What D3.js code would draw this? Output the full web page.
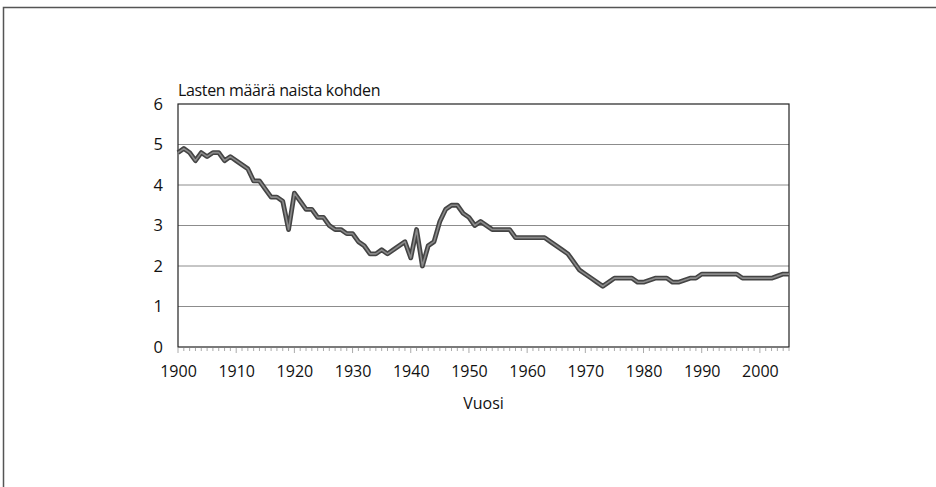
<!DOCTYPE html>
<html>
<head>
<meta charset="utf-8">
<script src="https://cdn.jsdelivr.net/npm/d3@7"></script>
<style>
  body { margin: 0; background: #fff; }
  text { font-family: "Open Sans", sans-serif; fill: #111; }
  .grid line { stroke: #8c8c8c; stroke-width: 1; }
</style>
</head>
<body>
<div id="chart"></div>
<script>
// Lasten määrä naista kohden, 1900-2005
var years = d3.range(1900, 2006);
var rates = [
  4.8, 4.9, 4.8, 4.6, 4.8, 4.7, 4.8, 4.8, 4.6, 4.7,   // 1900-1909
  4.6, 4.5, 4.4, 4.1, 4.1, 3.9, 3.7, 3.7, 3.6, 2.9,   // 1910-1919
  3.8, 3.6, 3.4, 3.4, 3.2, 3.2, 3.0, 2.9, 2.9, 2.8,   // 1920-1929
  2.8, 2.6, 2.5, 2.3, 2.3, 2.4, 2.3, 2.4, 2.5, 2.6,   // 1930-1939
  2.2, 2.9, 2.0, 2.5, 2.6, 3.1, 3.4, 3.5, 3.5, 3.3,   // 1940-1949
  3.2, 3.0, 3.1, 3.0, 2.9, 2.9, 2.9, 2.9, 2.7, 2.7,   // 1950-1959
  2.7, 2.7, 2.7, 2.7, 2.6, 2.5, 2.4, 2.3, 2.1, 1.9,   // 1960-1969
  1.8, 1.7, 1.6, 1.5, 1.6, 1.7, 1.7, 1.7, 1.7, 1.6,   // 1970-1979
  1.6, 1.65, 1.7, 1.7, 1.7, 1.6, 1.6, 1.65, 1.7, 1.7, // 1980-1989
  1.8, 1.8, 1.8, 1.8, 1.8, 1.8, 1.8, 1.7, 1.7, 1.7,   // 1990-1999
  1.7, 1.7, 1.7, 1.75, 1.8, 1.8                       // 2000-2005
];
var yTicks = [0, 1, 2, 3, 4, 5, 6];
var xTicks = d3.range(1900, 2001, 10);

var W = 936, H = 487;
var margin = {top: 104, right: 147, bottom: 140, left: 178},
    w = W - margin.left - margin.right,
    h = H - margin.top - margin.bottom;

var data = years.map(function(y, i) { return {year: y, rate: rates[i]}; });

var x = d3.scaleLinear().domain([1900, 2005]).range([0, w]),
    y = d3.scaleLinear().domain([0, 6]).range([h, 0]);

var svg = d3.select("#chart").append("svg")
    .attr("width", W)
    .attr("height", H);

// outer frame (top and left edges)
svg.append("path")
   .attr("d", "M3.5," + H + "V7.5H" + W)
   .attr("fill", "none")
   .attr("stroke", "#555")
   .attr("stroke-width", 1.5);

var g = svg.append("g")
    .attr("transform", "translate(" + margin.left + "," + margin.top + ")");

// horizontal gridlines
g.append("g")
   .attr("class", "grid")
   .selectAll("line")
   .data(yTicks.slice(1, -1))
   .enter().append("line")
   .attr("x1", 0).attr("x2", w)
   .attr("y1", function(d) { return y(d); })
   .attr("y2", function(d) { return y(d); });

// plot border
g.append("rect")
   .attr("width", w).attr("height", h)
   .attr("fill", "none")
   .attr("stroke", "#222")
   .attr("stroke-width", 1.2);

// y axis labels
g.append("g")
   .attr("class", "y axis")
   .call(d3.axisLeft(y).tickValues(yTicks).tickFormat(d3.format("d")).tickSize(0).tickPadding(15))
   .call(function(s) { s.select(".domain").remove(); })
   .selectAll("text")
   .style("font-size", "16.5px")
   .attr("fill", "#111");

// x axis: minor ticks every year, labels every decade
var xAxis = g.append("g")
   .attr("class", "x axis")
   .attr("transform", "translate(0," + h + ")");

xAxis.selectAll("line.minor")
   .data(years)
   .enter().append("line")
   .attr("class", "minor")
   .attr("x1", function(d) { return x(d); })
   .attr("x2", function(d) { return x(d); })
   .attr("y1", 1)
   .attr("y2", function(d) { return d % 10 === 0 ? 6 : 4; })
   .attr("stroke", "#aaa")
   .attr("stroke-width", 1);

xAxis.call(d3.axisBottom(x).tickValues(xTicks).tickFormat(d3.format("d")).tickSize(0).tickPadding(19))
   .call(function(s) { s.select(".domain").remove(); })
   .selectAll("text")
   .style("font-size", "16px")
   .attr("fill", "#111");

// the series: dark outline with lighter core
var line = d3.line()
    .x(function(d) { return x(d.year); })
    .y(function(d) { return y(d.rate); });

g.append("path")
   .datum(data)
   .attr("d", line)
   .attr("fill", "none")
   .attr("stroke", "#444")
   .attr("stroke-width", 4.8)
   .attr("stroke-linejoin", "round");

g.append("path")
   .datum(data)
   .attr("d", line)
   .attr("fill", "none")
   .attr("stroke", "#8a8a8a")
   .attr("stroke-width", 1.6)
   .attr("stroke-linejoin", "round");

// titles
g.append("text")
   .attr("x", 0)
   .attr("y", -8)
   .style("font-size", "16px")
   .style("letter-spacing", "-0.35px")
   .text("Lasten määrä naista kohden");

g.append("text")
   .attr("x", w / 2)
   .attr("y", h + 62)
   .attr("text-anchor", "middle")
   .style("font-size", "16px")
   .text("Vuosi");
</script>
</body>
</html>
